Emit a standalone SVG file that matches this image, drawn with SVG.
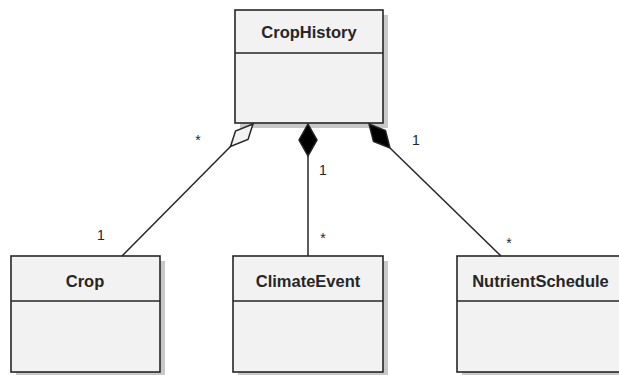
<svg xmlns="http://www.w3.org/2000/svg" width="619" height="375" viewBox="0 0 619 375">
<style>
.shadow{fill:#c8c8c8;stroke:none}
.box{fill:#f2f2f2;stroke:#262626;stroke-width:1.6}
.div{stroke:#262626;stroke-width:1.6}
.name{font-family:"Liberation Sans",Arial,sans-serif;font-weight:bold;font-size:16.5px;fill:#262626;text-anchor:middle}
.lbl{font-family:"Liberation Sans",Arial,sans-serif;font-size:14px;fill:#262626;text-anchor:middle}
.edge{stroke:#262626;stroke-width:1.5;fill:none}
.hollow{fill:#f2f2f2;stroke:#262626;stroke-width:1.5;stroke-linejoin:miter}
.solid{fill:#000;stroke:#262626;stroke-width:1.5;stroke-linejoin:miter}
</style>
<rect width="619" height="375" fill="#fff"/>
<g id="CropHistory">
  <rect class="shadow" x="240" y="15" width="148" height="113"/>
  <rect class="box" x="235" y="10" width="148" height="113"/>
  <line class="div" x1="235" y1="53" x2="383" y2="53"/>
  <text class="name" x="309" y="38">CropHistory</text>
</g>
<g id="Crop">
  <rect class="shadow" x="16" y="261" width="149" height="116"/>
  <rect class="box" x="11" y="256" width="149" height="116"/>
  <line class="div" x1="11" y1="301" x2="160" y2="301"/>
  <text class="name" x="85" y="286.5">Crop</text>
</g>
<g id="ClimateEvent">
  <rect class="shadow" x="238" y="261" width="150" height="116"/>
  <rect class="box" x="233" y="256" width="150" height="116"/>
  <line class="div" x1="233" y1="301" x2="383" y2="301"/>
  <text class="name" x="308" y="286.5">ClimateEvent</text>
</g>
<g id="NutrientSchedule">
  <rect class="shadow" x="462" y="261" width="167" height="116"/>
  <rect class="box" x="457" y="256" width="167" height="116"/>
  <line class="div" x1="457" y1="301" x2="624" y2="301"/>
  <text class="name" x="540.5" y="286.5">NutrientSchedule</text>
</g>
<g id="connectors">
  <line class="edge" x1="230.5" y1="146.5" x2="122" y2="256"/>
  <polygon class="hollow" points="253,124 235.5,131 230.5,146.5 248,139.5"/>
  <line class="edge" x1="308" y1="156" x2="308" y2="256"/>
  <polygon class="solid" points="308,124 317,140 308,156 299,140"/>
  <line class="edge" x1="390" y1="148" x2="501" y2="256"/>
  <polygon class="solid" points="369,124 385.5,130.5 390,148 373.5,141.5"/>
  <text class="lbl" x="198" y="145">*</text>
  <text class="lbl" x="101" y="240">1</text>
  <text class="lbl" x="323" y="175">1</text>
  <text class="lbl" x="323" y="243">*</text>
  <text class="lbl" x="416" y="145">1</text>
  <text class="lbl" x="509" y="248">*</text>
</g>
</svg>
